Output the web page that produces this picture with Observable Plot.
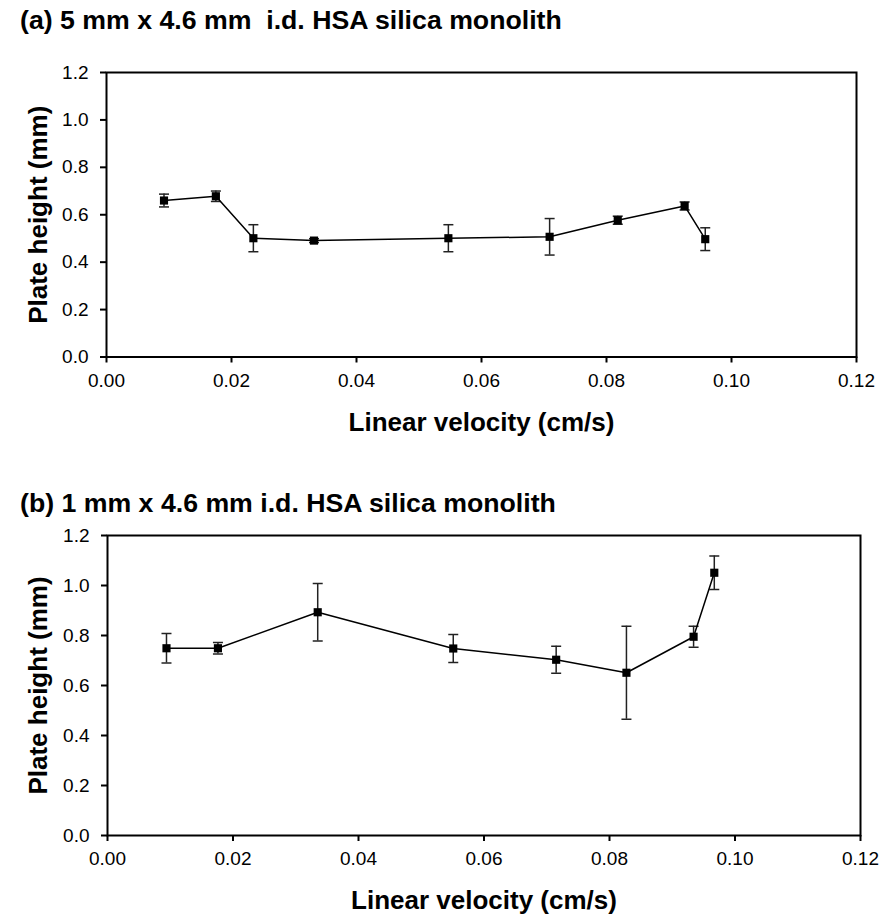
<!DOCTYPE html>
<html><head><meta charset="utf-8">
<script src="https://cdn.jsdelivr.net/npm/d3@7"></script>
<script src="https://cdn.jsdelivr.net/npm/@observablehq/plot@0.6"></script>
<style>
body{margin:0;background:#fff;}
#wrap{position:relative;width:880px;height:923px;background:#fff;font-family:"Liberation Sans",Arial,sans-serif;overflow:hidden;}
.title{position:absolute;left:20px;font-weight:bold;font-size:26.7px;white-space:pre;line-height:27px;z-index:2;color:#000;}
.panel{position:absolute;left:0;}
</style></head><body>
<div id="wrap">
 <div id="pa" class="panel" style="top:0"></div>
 <div id="pb" class="panel" style="top:450px"></div>
 <div class="title" style="top:7px" id="ta"></div>
 <div class="title" style="top:490px" id="tb"></div>
</div>
<script>
// ---- data ----
const titleA = "(a) 5 mm x 4.6 mm  i.d. HSA silica monolith";
const titleB = "(b) 1 mm x 4.6 mm i.d. HSA silica monolith";
const xTitle = "Linear velocity (cm/s)";
const yTitle = "Plate height (mm)";
const xTicks = [0, 0.02, 0.04, 0.06, 0.08, 0.10, 0.12];
const yTicks = [0, 0.2, 0.4, 0.6, 0.8, 1.0, 1.2];

const velocityA = [0.0092, 0.0175, 0.0235, 0.0332, 0.0547, 0.0709, 0.0818, 0.0925, 0.0958];
const plateA    = [0.660, 0.678, 0.501, 0.491, 0.501, 0.507, 0.577, 0.637, 0.497];
const errA      = [0.027, 0.022, 0.057, 0.008, 0.057, 0.077, 0.017, 0.017, 0.048];

const velocityB = [0.0094, 0.0176, 0.0335, 0.0551, 0.0715, 0.0827, 0.0934, 0.0967];
const plateB    = [0.749, 0.749, 0.893, 0.748, 0.703, 0.651, 0.795, 1.051];
const errB      = [0.059, 0.023, 0.115, 0.056, 0.054, 0.186, 0.042, 0.067];

// ---- drawing ----
const cap = {draw(ctx, size) { const w = Math.sqrt(size / Math.PI); ctx.moveTo(-w, 0); ctx.lineTo(w, 0); }};

function panel(vel, h, err, dims) {
  const rows = vel.map((v, i) => ({v, h: h[i], e: err[i]}));
  return Plot.plot({
    width: 880, height: dims.height,
    marginTop: dims.mt, marginBottom: dims.mb, marginLeft: dims.ml, marginRight: dims.mr,
    style: {fontFamily: "'Liberation Sans', Arial, sans-serif", fontSize: "19px", color: "black", background: "transparent", overflow: "visible"},
    x: {domain: [0, 0.12]},
    y: {domain: [0, 1.2]},
    marks: [
      Plot.frame({stroke: "black", strokeWidth: 2}),
      Plot.axisX(xTicks, {tickSize: 6, tickPadding: 10, tickFormat: d3.format(".2f"), strokeWidth: 2, label: null}),
      Plot.axisY(yTicks, {tickSize: 6, tickPadding: 12, tickFormat: d3.format(".1f"), strokeWidth: 2, label: null}),
      Plot.ruleX(rows, {x: "v", y1: d => d.h - d.e, y2: d => d.h + d.e, stroke: "#222", strokeWidth: 1.5}),
      Plot.dot(rows, {x: "v", y: d => d.h + d.e, symbol: cap, r: 5, stroke: "#222", strokeWidth: 1.5}),
      Plot.dot(rows, {x: "v", y: d => d.h - d.e, symbol: cap, r: 5, stroke: "#222", strokeWidth: 1.5}),
      Plot.line(rows, {x: "v", y: "h", stroke: "black", strokeWidth: 1.5}),
      Plot.dot(rows, {x: "v", y: "h", symbol: "square", r: 4.6, fill: "black"}),
      Plot.text([xTitle], {frameAnchor: "bottom", dy: 65.5, lineAnchor: "middle", textAnchor: "middle", text: d => d, fontWeight: "bold", fontSize: 26}),
      Plot.text([yTitle], {frameAnchor: "left", dx: dims.ytx, rotate: -90, lineAnchor: "middle", textAnchor: "middle", text: d => d, fontWeight: "bold", fontSize: 26})
    ]
  });
}

document.getElementById("ta").textContent = titleA;
document.getElementById("tb").textContent = titleB;
document.getElementById("pa").appendChild(panel(velocityA, plateA, errA, {height: 450, mt: 72, mb: 93.5, ml: 106, mr: 24, ytx: -68}));
document.getElementById("pb").appendChild(panel(velocityB, plateB, errB, {height: 473, mt: 85, mb: 88, ml: 107, mr: 20, ytx: -69}));
</script>
</body></html>
